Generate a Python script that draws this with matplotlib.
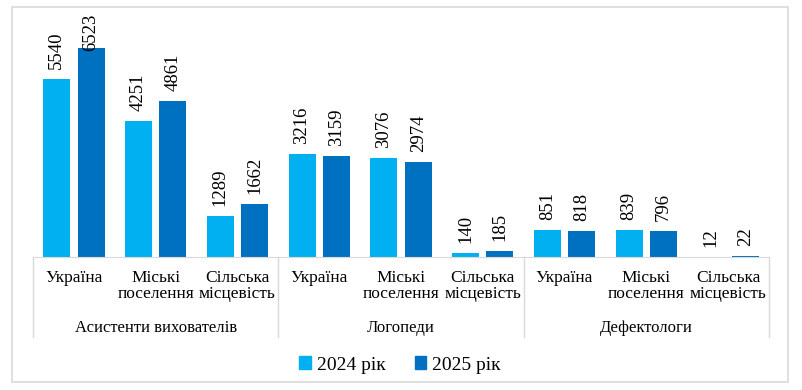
import numpy as np
import matplotlib.pyplot as plt
import matplotlib.transforms as mtransforms
from matplotlib.patches import Rectangle, Patch

plt.rcParams['font.family'] = ['Liberation Serif', 'DejaVu Serif']

groups = ['Асистенти вихователів', 'Логопеди', 'Дефектологи']
places = ['Україна', 'Міські\nпоселення', 'Сільська\nмісцевість']
series = ['2024 рік', '2025 рік']
v2024 = [5540, 4251, 1289, 3216, 3076, 140, 851, 839, 12]
v2025 = [6523, 4861, 1662, 3159, 2974, 185, 818, 796, 22]
colors = ['#00B0F0', '#0070C0']

W, H = 802, 390
fig = plt.figure(figsize=(W / 100, H / 100), dpi=100)

# axes box in pixels
left, right, base, top = 33, 769, 257, 15
ymax = 7540
ax = fig.add_axes([left / W, 1 - base / H, (right - left) / W, (base - top) / H])
hpx = base - top

x = np.arange(len(v2024))
bw = 0.33
off = 0.21
for vals, dx, c in [(v2024, -off, colors[0]), (v2025, off, colors[1])]:
    bars = ax.bar(x + dx, vals, width=bw, color=c, zorder=2)
    for b, v in zip(bars, vals):
        # keep the label inside the chart area (like Excel does)
        top_px = base - v * hpx / ymax
        lab_len = 9.5 * len(str(v))
        gap = min(10, top_px - 13 - lab_len)
        ax.annotate(str(v), (b.get_x() + b.get_width() / 2, v),
                    xytext=(0, gap * 0.72), textcoords='offset points',
                    rotation=90, ha='center', va='bottom', fontsize=13.5)

ax.set_xlim(-0.5, len(x) - 0.5)
ax.set_ylim(0, ymax)
ax.set_xticks([])
ax.set_yticks([])
for s in ['left', 'right', 'top']:
    ax.spines[s].set_visible(False)
ax.spines['bottom'].set_color('#d9d9d9')

trans = mtransforms.blended_transform_factory(ax.transData, ax.transAxes)
def yfrac(py):
    return (base - py) / hpx

# separators of the multi-level axis
for sx in [-0.5, 2.5, 5.5, 8.5]:
    ax.plot([sx, sx], [0, yfrac(337)], transform=trans, color='#d9d9d9',
            lw=1, clip_on=False)

for i in x:
    ax.text(i, yfrac(270), places[i % 3], transform=trans, ha='center',
            va='top', fontsize=12.5, linespacing=1.0)
for g, name in enumerate(groups):
    ax.text(3 * g + 1, yfrac(328), name, transform=trans, ha='center',
            va='center', fontsize=12)

handles = [Patch(color=c, label=s) for c, s in zip(colors, series)]
fig.legend(handles=handles, loc='center', bbox_to_anchor=(400 / W, 1 - 365 / H),
           ncol=2, frameon=False, fontsize=14, handlelength=0.6,
           handleheight=0.6, handletextpad=0.3, columnspacing=1.5)

# outer border
fig.patches.append(Rectangle((12 / W, 1 - 382 / H), (788 - 12) / W, (382 - 7) / H,
                             transform=fig.transFigure, fill=False,
                             edgecolor='#d9d9d9', lw=1.2))

fig.savefig('out.png', dpi=100)
